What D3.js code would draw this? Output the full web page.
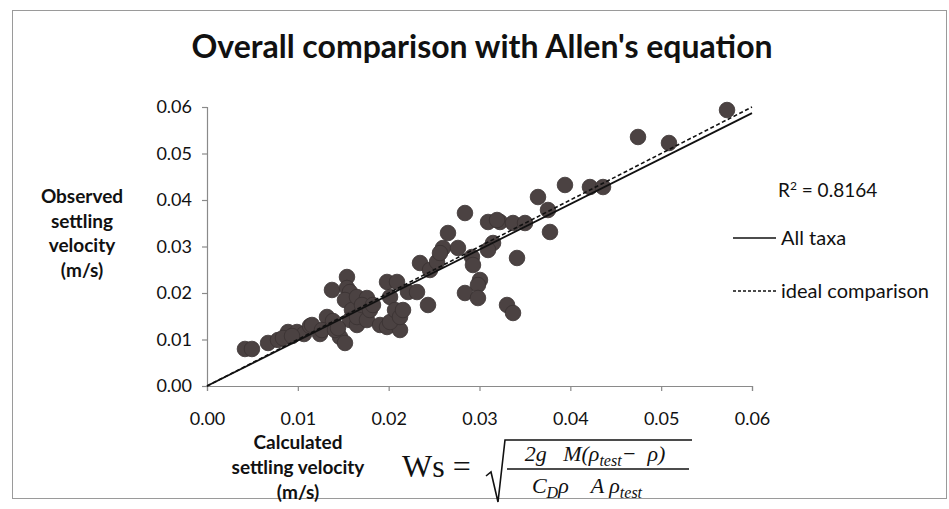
<!DOCTYPE html>
<html><head><meta charset="utf-8">
<script src="https://cdn.jsdelivr.net/npm/d3@7"></script>
<style>
html,body{margin:0;padding:0;background:#fff;}
svg{display:block;}
text{font-family:Lato,"Open Sans",sans-serif;fill:#111;}
</style></head>
<body>
<svg id="chart" width="949" height="509"></svg>
<script>
// ---- data ----
const calcVelocity = [0.00418,0.00495,0.00672,0.00782,0.00892,0.00991,0.01068,0.01134,0.01244,0.01321,
  0.01387,0.01464,0.01519,0.01376,0.01541,0.01541,0.01574,0.01519,0.01596,0.01574,
  0.01651,0.01651,0.01761,0.01651,0.01761,0.01905,0.01982,0.02125,0.02015,0.01982,
  0.02092,0.02015,0.02070,0.02125,0.02213,0.02158,0.02345,0.02312,0.02433,0.02455,
  0.02532,0.02598,0.02653,0.02763,0.02840,0.02917,0.02928,0.03005,0.02983,0.02840,
  0.02983,0.03303,0.03369,0.03094,0.03226,0.03369,0.03501,0.03149,0.03094,0.03413,
  0.03644,0.03754,0.03776,0.03941,0.04216,0.04360,0.04745,0.05086,0.05725,0.01156,
  0.01266,0.00837,0.00936,0.01409,0.01706,0.01794,0.01442,0.01827,0.02565,0.03193];
const obsVelocity = [0.00796,0.00796,0.00925,0.00989,0.01161,0.01161,0.01118,0.01290,0.01118,0.01484,
  0.01398,0.01054,0.00925,0.02065,0.02344,0.02107,0.02021,0.01849,0.01634,0.01419,
  0.01312,0.01914,0.01892,0.01484,0.01419,0.01312,0.01269,0.01204,0.01376,0.02237,
  0.02237,0.01914,0.01634,0.01484,0.02021,0.01634,0.02645,0.02021,0.01742,0.02495,
  0.02667,0.02968,0.03290,0.02968,0.03720,0.02774,0.02602,0.02280,0.02172,0.02000,
  0.01892,0.01742,0.01570,0.03527,0.03527,0.03505,0.03505,0.03075,0.02925,0.02753,
  0.04064,0.03785,0.03312,0.04323,0.04279,0.04279,0.05355,0.05226,0.05935,0.01312,
  0.01204,0.01032,0.01075,0.01204,0.01742,0.01634,0.01247,0.01742,0.02860,0.03570];
const tickValues = [0,0.01,0.02,0.03,0.04,0.05,0.06];
const trendSlope = 0.978;      // "All taxa" linear fit through origin
const rSquared = "0.8164";
const titleText = "Overall comparison with Allen's equation";
const yTitleLines = ["Observed","settling","velocity","(m/s)"];
const xTitleLines = ["Calculated","settling velocity","(m/s)"];
const legendItems = ["All taxa","ideal comparison"];

// ---- drawing ----
const svg = d3.select("#chart");
const axisColor = "#8a8a8a";
const dotColor = "#4b4242";

// outer frame
svg.append("rect").attr("x",12.5).attr("y",10.5).attr("width",934).attr("height",488)
  .attr("fill","none").attr("stroke","#9a9a9a").attr("stroke-width",1);

const x = d3.scaleLinear().domain([0,0.06]).range([207,752]);
const y = d3.scaleLinear().domain([0,0.06]).range([386,107]);

// title
svg.append("text").attr("x",482).attr("y",58).attr("text-anchor","middle")
  .style("font-size","32px").style("font-weight","700").text(titleText);

// axes
const yAxis = d3.axisLeft(y).tickValues(tickValues).tickFormat(d3.format(".2f")).tickSize(5).tickPadding(10);
const xAxis = d3.axisBottom(x).tickValues(tickValues).tickFormat(d3.format(".2f")).tickSize(5).tickPadding(21);
const gy = svg.append("g").attr("transform","translate(207,0)").call(yAxis);
const gx = svg.append("g").attr("transform","translate(0,386)").call(xAxis);
[gx,gy].forEach(g=>{
  g.select(".domain").attr("stroke",axisColor).attr("stroke-width",1.2);
  g.selectAll(".tick line").attr("stroke",axisColor).attr("stroke-width",1.2);
  g.selectAll(".tick text").style("font-size","18px").style("font-family","Lato,'Open Sans',sans-serif").attr("fill","#111");
});

// points
const pts = calcVelocity.map((c,i)=>({c, o: obsVelocity[i]}));
svg.append("g").selectAll("circle").data(pts).join("circle")
  .attr("cx",d=>x(d.c)).attr("cy",d=>y(d.o)).attr("r",7.8)
  .attr("fill",dotColor).attr("stroke","#3a3232").attr("stroke-width",0.8);

// lines
const line = d3.line().x(d=>x(d[0])).y(d=>y(d[1]));
svg.append("path").datum([[0,0],[0.06,0.06]]).attr("d",line)
  .attr("fill","none").attr("stroke","#111").attr("stroke-width",1.6).attr("stroke-dasharray","4,2.5");
svg.append("path").datum([[0,0],[0.06,0.06*trendSlope]]).attr("d",line)
  .attr("fill","none").attr("stroke","#111").attr("stroke-width",1.8);

// legend
const lg = svg.append("g");
const rt = lg.append("text").attr("x",778).attr("y",197).style("font-size","19px");
rt.append("tspan").text("R");
rt.append("tspan").attr("dy",-7).style("font-size","12px").text("2");
rt.append("tspan").attr("dy",7).text(" = " + rSquared);
lg.append("line").attr("x1",733).attr("x2",776).attr("y1",238).attr("y2",238)
  .attr("stroke","#111").attr("stroke-width",1.6);
lg.append("text").attr("x",781).attr("y",245).style("font-size","20px").text(legendItems[0]);
lg.append("line").attr("x1",733).attr("x2",776).attr("y1",291).attr("y2",291)
  .attr("stroke","#111").attr("stroke-width",1.4).attr("stroke-dasharray","3,2");
lg.append("text").attr("x",781).attr("y",298).style("font-size","20px").text(legendItems[1]);

// y title
svg.append("text").attr("text-anchor","middle").style("font-size","19px").style("font-weight","700")
  .selectAll("tspan").data(yTitleLines).join("tspan").attr("x",82).attr("y",(d,i)=>203+i*24.5).text(d=>d);
// x title
svg.append("text").attr("text-anchor","middle").style("font-size","19px").style("font-weight","700")
  .selectAll("tspan").data(xTitleLines).join("tspan").attr("x",298).attr("y",(d,i)=>449+i*25).text(d=>d);

// formula
const f = svg.append("g");
f.append("text").attr("x",402).attr("y",477).style("font-family","'Liberation Serif',serif").style("font-size","32px").text("Ws =");
f.append("path").attr("d","M486,476 L491,472 L498,502 L505,440 L692,440")
  .attr("fill","none").attr("stroke","#111").attr("stroke-width",1.6);
f.append("line").attr("x1",507).attr("x2",689).attr("y1",469).attr("y2",469).attr("stroke","#111").attr("stroke-width",1.4);
const num = f.append("text").attr("x",595).attr("y",461).attr("text-anchor","middle")
  .style("white-space","pre").style("font-family","'Liberation Serif',serif").style("font-style","italic").style("font-size","22px");
num.append("tspan").text("2g   M(ρ");
num.append("tspan").attr("dy",5).style("font-size","16px").text("test");
num.append("tspan").attr("dy",-5).text("−  ρ)");
const den = f.append("text").attr("x",587).attr("y",493).attr("text-anchor","middle")
  .style("white-space","pre").style("font-family","'Liberation Serif',serif").style("font-style","italic").style("font-size","22px");
den.append("tspan").text("C");
den.append("tspan").attr("dy",5).style("font-size","16px").text("D");
den.append("tspan").attr("dy",-5).text("ρ    A ρ");
den.append("tspan").attr("dy",5).style("font-size","16px").text("test");
</script>
</body></html>
